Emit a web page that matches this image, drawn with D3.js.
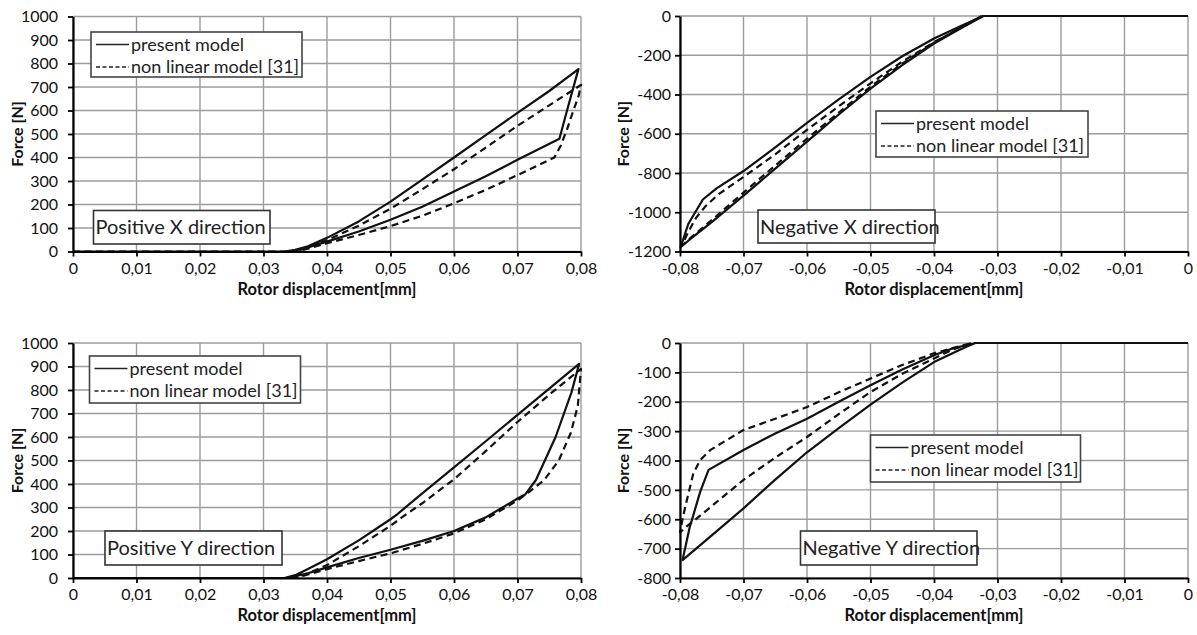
<!DOCTYPE html>
<html>
<head>
<meta charset="utf-8">
<script src="https://cdn.jsdelivr.net/npm/d3@7"></script>
<style>
  body { margin: 0; background: #fff; }
  text { font-family: Lato, "Open Sans", sans-serif; }
</style>
</head>
<body>
<script>
// tick values and labels
const xTicksPos = [0, 0.01, 0.02, 0.03, 0.04, 0.05, 0.06, 0.07, 0.08];
const xLabelsPos = ["0", "0,01", "0,02", "0,03", "0,04", "0,05", "0,06", "0,07", "0,08"];
const xTicksNeg = [-0.08, -0.07, -0.06, -0.05, -0.04, -0.03, -0.02, -0.01, 0];
const xLabelsNeg = ["-0,08", "-0,07", "-0,06", "-0,05", "-0,04", "-0,03", "-0,02", "-0,01", "0"];
const yTicksPos = [0, 100, 200, 300, 400, 500, 600, 700, 800, 900, 1000];
const yTicksNegX = [-1200, -1000, -800, -600, -400, -200, 0];
const yTicksNegY = [-800, -700, -600, -500, -400, -300, -200, -100, 0];

const seriesNames = ["present model", "non linear model [31]"];
const panelTitles = ["Positive X direction", "Negative X direction", "Positive Y direction", "Negative Y direction"];

// [displacement mm, force N], drawn as loops
const posXPresent = [[0,0],[0.0333,0],[0.036,10],[0.04,42],[0.045,85],[0.05,135],[0.055,190],[0.06,255],
  [0.065,320],[0.07,390],[0.0766,480],[0.0781,630],[0.0796,776],[0.075,683],[0.07,590],[0.065,495],
  [0.06,400],[0.055,306],[0.05,212],[0.045,128],[0.04,58],[0.037,22],[0.035,7],[0.0333,0]];
const posXNonlinear = [[0,0],[0.035,0],[0.037,12],[0.04,35],[0.045,70],[0.05,108],[0.055,152],[0.06,205],
  [0.065,262],[0.07,325],[0.0758,400],[0.0768,450],[0.0778,520],[0.0788,600],[0.0796,660],[0.08,709],
  [0.075,622],[0.07,535],[0.065,442],[0.06,350],[0.055,265],[0.05,182],[0.045,110],[0.04,48],[0.037,18],[0.035,0]];

const negXPresent = [[0,0],[-0.0322,0],[-0.035,-40],[-0.04,-115],[-0.045,-205],[-0.05,-310],[-0.055,-425],
  [-0.06,-545],[-0.065,-670],[-0.07,-790],[-0.0743,-880],[-0.0764,-935],[-0.0776,-1000],[-0.0787,-1060],
  [-0.0799,-1178],[-0.0785,-1140],[-0.075,-1050],[-0.07,-915],[-0.065,-778],[-0.06,-640],[-0.055,-502],
  [-0.05,-370],[-0.045,-250],[-0.04,-140],[-0.035,-48],[-0.0322,0]];
const negXNonlinear = [[0,0],[-0.0325,0],[-0.035,-48],[-0.04,-133],[-0.045,-233],[-0.05,-343],[-0.055,-460],
  [-0.06,-580],[-0.065,-705],[-0.07,-820],[-0.074,-910],[-0.076,-970],[-0.0775,-1030],[-0.0787,-1100],
  [-0.0797,-1170],[-0.0785,-1135],[-0.075,-1040],[-0.07,-900],[-0.065,-762],[-0.06,-625],[-0.055,-492],
  [-0.05,-360],[-0.045,-243],[-0.04,-136],[-0.035,-45],[-0.0325,0]];

const posYPresent = [[0,0],[0.0333,0],[0.035,8],[0.037,20],[0.04,45],[0.045,85],[0.05,120],[0.055,158],
  [0.06,200],[0.065,258],[0.07,338],[0.0712,355],[0.0729,417],[0.076,600],[0.0785,790],[0.0797,911],
  [0.075,806],[0.07,694],[0.065,582],[0.06,471],[0.055,360],[0.051,270],[0.05,250],[0.045,160],
  [0.04,80],[0.037,38],[0.035,12],[0.0333,0]];
const posYNonlinear = [[0,0],[0.035,0],[0.037,15],[0.04,38],[0.045,72],[0.05,105],[0.055,145],[0.06,190],
  [0.065,250],[0.07,330],[0.072,370],[0.0742,417],[0.0765,500],[0.0784,618],[0.0795,733],[0.08,890],
  [0.075,780],[0.07,664],[0.065,540],[0.06,420],[0.055,318],[0.052,262],[0.05,222],[0.045,135],
  [0.04,55],[0.037,20],[0.035,0]];

const negYPresent = [[0,0],[-0.0335,0],[-0.035,-14],[-0.04,-65],[-0.045,-135],[-0.05,-210],[-0.055,-290],
  [-0.06,-372],[-0.065,-465],[-0.07,-563],[-0.075,-655],[-0.0796,-739],[-0.0785,-630],[-0.0768,-505],
  [-0.0755,-432],[-0.07,-364],[-0.065,-308],[-0.06,-258],[-0.055,-200],[-0.05,-144],[-0.045,-90],
  [-0.04,-42],[-0.037,-18],[-0.0335,0]];
const negYNonlinear = [[0,0],[-0.034,0],[-0.035,-5],[-0.04,-35],[-0.045,-75],[-0.05,-121],[-0.055,-168],
  [-0.06,-218],[-0.065,-258],[-0.07,-296],[-0.0752,-364],[-0.0768,-398],[-0.0779,-444],[-0.0792,-560],
  [-0.0797,-610],[-0.08,-645],[-0.079,-625],[-0.0774,-598],[-0.07,-466],[-0.065,-390],[-0.06,-320],
  [-0.055,-242],[-0.05,-167],[-0.045,-105],[-0.04,-53],[-0.037,-22],[-0.034,0]];

const W = 1197, H = 635;
const svg = d3.select("body").append("svg").attr("width", W).attr("height", H);

const panels = [
  { id: "px", x0: 73, x1: 581, yTop: 16.5, yBot: 251.5, xDomain: [0, 0.08], yDomain: [0, 1000],
    xTicks: xTicksPos, xLabels: xLabelsPos, yTicks: yTicksPos, pad: 10, titleX: 17,
    present: posXPresent, nonlinear: posXNonlinear,
    legend: { x: 91, y: 32, w: 211, h: 45 }, tag: { x: 93.5, y: 210.5, w: 176.5, h: 33.5, text: panelTitles[0] } },
  { id: "nx", x0: 680, x1: 1188, yTop: 16, yBot: 251.5, xDomain: [-0.08, 0], yDomain: [-1200, 0],
    xTicks: xTicksNeg, xLabels: xLabelsNeg, yTicks: yTicksNegX, pad: 4, titleX: 623,
    present: negXPresent, nonlinear: negXNonlinear,
    legend: { x: 876, y: 111, w: 212, h: 46 }, tag: { x: 758, y: 210, w: 177, h: 33, text: panelTitles[1] } },
  { id: "py", x0: 73, x1: 581, yTop: 343, yBot: 578, xDomain: [0, 0.08], yDomain: [0, 1000],
    xTicks: xTicksPos, xLabels: xLabelsPos, yTicks: yTicksPos, pad: 10, titleX: 17,
    present: posYPresent, nonlinear: posYNonlinear,
    legend: { x: 89.5, y: 356, w: 211, h: 47 }, tag: { x: 105, y: 531, w: 177, h: 34, text: panelTitles[2] } },
  { id: "ny", x0: 680, x1: 1188, yTop: 343, yBot: 578, xDomain: [-0.08, 0], yDomain: [-800, 0],
    xTicks: xTicksNeg, xLabels: xLabelsNeg, yTicks: yTicksNegY, pad: 4, titleX: 623,
    present: negYPresent, nonlinear: negYNonlinear,
    legend: { x: 870.5, y: 435, w: 210, h: 47 }, tag: { x: 800.5, y: 531, w: 176.5, h: 34, text: panelTitles[3] } }
];

function drawPanel(p) {
  const x = d3.scaleLinear().domain(p.xDomain).range([p.x0, p.x1]);
  const y = d3.scaleLinear().domain(p.yDomain).range([p.yBot, p.yTop]);
  const g = svg.append("g");

  // gridlines
  g.append("g").selectAll("line").data(p.xTicks).join("line")
    .attr("x1", d => x(d)).attr("x2", d => x(d))
    .attr("y1", p.yTop).attr("y2", p.yBot)
    .attr("stroke", "#9c9c9c").attr("stroke-width", 1.4);
  g.append("g").selectAll("line").data(p.yTicks).join("line")
    .attr("x1", p.x0).attr("x2", p.x1)
    .attr("y1", d => y(d)).attr("y2", d => y(d))
    .attr("stroke", "#9c9c9c").attr("stroke-width", 1.4);

  // curves, clipped to the plot area
  g.append("clipPath").attr("id", "clip-" + p.id)
    .append("rect").attr("x", p.x0 - 1).attr("y", p.yTop - 2)
    .attr("width", p.x1 - p.x0 + 2).attr("height", p.yBot - p.yTop + 3);
  const line = d3.line().x(d => x(d[0])).y(d => y(d[1]));
  const curves = g.append("g").attr("clip-path", "url(#clip-" + p.id + ")")
    .attr("fill", "none").attr("stroke", "#111").attr("stroke-width", 2.2)
    .attr("stroke-linejoin", "round");
  curves.append("path").attr("d", line(p.nonlinear)).attr("stroke-dasharray", "7,4.5");
  curves.append("path").attr("d", line(p.present));

  // axes
  const xAxis = g.append("g").attr("transform", `translate(0,${p.yBot})`)
    .call(d3.axisBottom(x).tickValues(p.xTicks).tickFormat((d, i) => p.xLabels[i])
      .tickSize(5).tickSizeOuter(0).tickPadding(6));
  const yAxis = g.append("g").attr("transform", `translate(${p.x0},0)`)
    .call(d3.axisLeft(y).tickValues(p.yTicks).tickFormat(d => String(d))
      .tickSize(5).tickSizeOuter(0).tickPadding(p.pad));
  [xAxis, yAxis].forEach(a => {
    a.select(".domain").attr("stroke", "#000").attr("stroke-width", 2.2);
    a.selectAll(".tick line").attr("stroke", "#000").attr("stroke-width", 1.8);
    a.selectAll(".tick text").attr("fill", "#111").style("font-size", "16px")
      .style("font-family", "Lato, 'Open Sans', sans-serif");
  });

  // axis titles
  g.append("text").attr("x", (p.x0 + p.x1) / 2).attr("y", p.yBot + 43)
    .attr("text-anchor", "middle").attr("font-size", 16.5).attr("font-weight", "bold")
    .attr("fill", "#111").text("Rotor displacement[mm]");
  g.append("text")
    .attr("transform", `translate(${p.titleX},${(p.yTop + p.yBot) / 2}) rotate(-90)`)
    .attr("text-anchor", "middle").attr("dy", "0.35em")
    .attr("font-size", 16).attr("font-weight", "bold").attr("fill", "#111").text("Force [N]");

  // legend
  const L = p.legend;
  const lg = g.append("g");
  lg.append("rect").attr("x", L.x).attr("y", L.y).attr("width", L.w).attr("height", L.h)
    .attr("fill", "#fff").attr("stroke", "#444").attr("stroke-width", 1.6);
  const rows = [{ name: seriesNames[0], dash: null }, { name: seriesNames[1], dash: "4,2.5" }];
  rows.forEach((r, i) => {
    const cy = L.y + 12.5 + i * 22.5;
    lg.append("line").attr("x1", L.x + 5).attr("x2", L.x + 38).attr("y1", cy).attr("y2", cy)
      .attr("stroke", "#222").attr("stroke-width", 1.4).attr("stroke-dasharray", r.dash);
    lg.append("text").attr("x", L.x + 40).attr("y", cy).attr("dy", "0.35em")
      .attr("font-size", 18).attr("fill", "#222").text(r.name);
  });

  // direction label
  const T = p.tag;
  g.append("rect").attr("x", T.x).attr("y", T.y).attr("width", T.w).attr("height", T.h)
    .attr("fill", "#fff").attr("stroke", "#333").attr("stroke-width", 1.6);
  g.append("text").attr("x", T.x + 2).attr("y", T.y + T.h / 2).attr("dy", "0.36em")
    .attr("font-size", 20).attr("fill", "#222").text(T.text);
}

panels.forEach(drawPanel);
</script>
</body>
</html>
